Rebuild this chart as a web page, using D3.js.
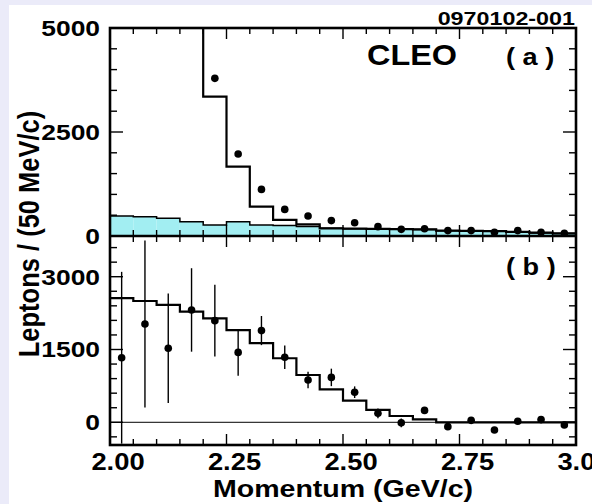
<!DOCTYPE html>
<html>
<head>
<script src="https://d3js.org/d3.v7.min.js"></script>
<style>
  body { margin: 0; background: #fff; }
  text { font-family: "Liberation Sans", Arial, Helvetica, sans-serif; font-weight: bold; fill: #000; }
</style>
</head>
<body>
<script>
// bin low edges (GeV/c), 50 MeV bins
var binLo = [2.00, 2.05, 2.10, 2.15, 2.20, 2.25, 2.30, 2.35, 2.40, 2.45,
             2.50, 2.55, 2.60, 2.65, 2.70, 2.75, 2.80, 2.85, 2.90, 2.95];
var binW = 0.05;

// panel (a): total fit (null = off scale), background (cyan), data points
var totalA = [null, null, null, null, 3350, 1670, 705, 390, 280, 185,
              175, 170, 165, 160, 130, 125, 120, 100, 80, 65];
var bkgA   = [480, 465, 425, 345, 265, 345, 265, 250, 230, 185,
              175, 170, 160, 155, 125, 120, 110, 95, 75, 60];
var dataA  = [null, null, null, null, 3790, 1970, 1120, 640, 480, 370,
              320, 225, 160, 175, 130, 130, 90, 130, 90, 65];

// panel (b): model histogram, subtracted data and errors
var fitB  = [2560, 2500, 2420, 2280, 2140, 1900, 1630, 1320, 975, 680,
             445, 255, 130, 60, 0, 0, 0, 0, 0, 0];
var dataB = [1330, 2025, 1525, 2315, 2095, 1440, 1890, 1340, 870, 925,
             620, 185, -10, 245, -90, 40, -160, 20, 55, -55];
var errB  = [1770, 1720, 1130, 860, 740, 480, 300, 240, 170, 180,
             120, 100, 90, 70, 70, 60, 60, 50, 50, 40];

var xTicks = [2.00, 2.25, 2.50, 2.75, 3.00];
var xTickLabels = ["2.00", "2.25", "2.50", "2.75", "3.00"];
var yTicksA = [0, 2500, 5000];
var yTicksB = [0, 1500, 3000];

var width = 592, height = 504;
var svg = d3.select("body").append("svg")
  .attr("width", width)
  .attr("height", height);

svg.append("rect").attr("width", width).attr("height", height).attr("fill", "#fff");
svg.append("rect").attr("width", width).attr("height", 5).attr("fill", "#ebebf9");
svg.append("rect").attr("width", 9).attr("height", height).attr("fill", "#ebebf9");

var x = d3.scaleLinear().domain([2, 3]).range([110, 576]);
var ya = d3.scaleLinear().domain([0, 5000]).range([236, 28]).clamp(true);
var yb = d3.scaleLinear().domain([-468, 3839]).range([445, 236]);

var defs = svg.append("defs");
defs.append("clipPath").attr("id", "clipA").append("rect")
  .attr("x", 110).attr("y", 28).attr("width", 466).attr("height", 208);
defs.append("clipPath").attr("id", "clipB").append("rect")
  .attr("x", 110).attr("y", 236).attr("width", 466).attr("height", 209);

// step path for a histogram given values (null bins skipped)
function stepPath(vals, y, topFromNull) {
  var p = d3.path(), started = false;
  vals.forEach(function (v, i) {
    if (v === null) return;
    var x0 = x(binLo[i]), x1 = x(binLo[i] + binW);
    if (!started) {
      if (topFromNull && i > 0) { p.moveTo(x0, y.range()[1]); p.lineTo(x0, y(v)); }
      else p.moveTo(x0, y(v));
      started = true;
    } else {
      p.lineTo(x0, y(v));
    }
    p.lineTo(x1, y(v));
  });
  return p.toString();
}

// ---- panel (a)
var ga = svg.append("g").attr("clip-path", "url(#clipA)");
ga.selectAll("rect.bkg")
  .data(bkgA)
  .enter().append("rect")
  .attr("class", "bkg")
  .attr("x", function (d, i) { return x(binLo[i]); })
  .attr("width", function (d, i) { return x(binLo[i] + binW) - x(binLo[i]); })
  .attr("y", function (d) { return ya(d); })
  .attr("height", function (d) { return ya(0) - ya(d); })
  .attr("fill", "#a2eef2");
ga.append("path")
  .attr("d", stepPath(bkgA, ya, false))
  .attr("fill", "none").attr("stroke", "#000").attr("stroke-width", 1.5);
ga.append("path")
  .attr("d", stepPath(totalA, ya, true))
  .attr("fill", "none").attr("stroke", "#000").attr("stroke-width", 2.2);
ga.selectAll("circle")
  .data(dataA.map(function (v, i) { return { v: v, i: i }; }).filter(function (d) { return d.v !== null; }))
  .enter().append("circle")
  .attr("cx", function (d) { return x(binLo[d.i] + binW / 2); })
  .attr("cy", function (d) { return ya(d.v); })
  .attr("r", 3.8)
  .attr("fill", "#000");

// ---- panel (b)
var gb = svg.append("g").attr("clip-path", "url(#clipB)");
gb.append("line")
  .attr("x1", x(2)).attr("x2", x(3))
  .attr("y1", yb(0)).attr("y2", yb(0))
  .attr("stroke", "#000").attr("stroke-width", 1);
gb.append("path")
  .attr("d", stepPath(fitB, yb, false))
  .attr("fill", "none").attr("stroke", "#000").attr("stroke-width", 2.2);
var ptsB = dataB.map(function (v, i) { return { v: v, e: errB[i], i: i }; });
gb.selectAll("line.err")
  .data(ptsB)
  .enter().append("line")
  .attr("class", "err")
  .attr("x1", function (d) { return x(binLo[d.i] + binW / 2); })
  .attr("x2", function (d) { return x(binLo[d.i] + binW / 2); })
  .attr("y1", function (d) { return yb(d.v - d.e); })
  .attr("y2", function (d) { return yb(d.v + d.e); })
  .attr("stroke", "#000").attr("stroke-width", 1.4);
gb.selectAll("circle")
  .data(ptsB)
  .enter().append("circle")
  .attr("cx", function (d) { return x(binLo[d.i] + binW / 2); })
  .attr("cy", function (d) { return yb(d.v); })
  .attr("r", 3.8)
  .attr("fill", "#000");

// ---- ticks
function xAxisTicks(yPos, dir) {
  var minor = d3.range(1, 20).map(function (k) { return 2 + k * 0.05; });
  var isMajor = function (v) { return Math.abs(v * 4 - Math.round(v * 4)) < 1e-6; };
  svg.append("g").selectAll("line")
    .data(minor)
    .enter().append("line")
    .attr("x1", function (d) { return x(d); }).attr("x2", function (d) { return x(d); })
    .attr("y1", yPos)
    .attr("y2", function (d) { return yPos + dir * (isMajor(d) ? 11 : 6); })
    .attr("stroke", "#000").attr("stroke-width", 1.4);
}
xAxisTicks(28, 1);
xAxisTicks(236, -1);
xAxisTicks(236, 1);
xAxisTicks(445, -1);

function yAxisTicks(y, step, majorStep, lo, hi) {
  var vals = [];
  for (var v = lo; v <= hi; v += step) vals.push(v);
  [[110, 1], [576, -1]].forEach(function (side) {
    svg.append("g").selectAll("line")
      .data(vals)
      .enter().append("line")
      .attr("x1", side[0])
      .attr("x2", function (d) { return side[0] + side[1] * (d % majorStep === 0 ? 13 : 7); })
      .attr("y1", function (d) { return y(d); }).attr("y2", function (d) { return y(d); })
      .attr("stroke", "#000").attr("stroke-width", 1.4);
  });
}
yAxisTicks(ya, 500, 2500, 500, 4500);
yAxisTicks(yb, 300, 1500, -300, 3600);

// ---- frames
svg.append("rect")
  .attr("x", 110).attr("y", 28).attr("width", 466).attr("height", 417)
  .attr("fill", "none").attr("stroke", "#000").attr("stroke-width", 2.6);
svg.append("line")
  .attr("x1", 110).attr("x2", 576).attr("y1", 236).attr("y2", 236)
  .attr("stroke", "#000").attr("stroke-width", 2.6);

// ---- text
function txt(px, py, s, size, sx, anchor, rot) {
  return svg.append("text")
    .attr("transform", "translate(" + px + "," + py + ") scale(" + sx + ",1)" + (rot ? " rotate(" + rot + ")" : ""))
    .attr("text-anchor", anchor)
    .style("font-size", size + "px")
    .text(s);
}

yTicksA.forEach(function (v) { txt(100, ya(v) + 7.8, String(v), 22, 1.2, "end"); });
yTicksB.forEach(function (v) { txt(100, yb(v) + 7.8, String(v), 22, 1.2, "end"); });
xTicks.forEach(function (v, i) { txt(x(v) + 8, 470, xTickLabels[i], 24, 1.14, "middle"); });

txt(343, 497, "Momentum (GeV/c)", 24, 1.19, "middle");
txt(39, 234, "Leptons / (50 MeV/c)", 25.5, 1.15, "middle", -90);
txt(575, 25, "0970102-001", 18.5, 1.26, "end");
txt(367, 65, "CLEO", 30, 1.08, "start");
txt(506, 65, "( a )", 24, 1.13, "start");
txt(506, 275, "( b )", 24, 1.13, "start");
</script>
</body>
</html>
